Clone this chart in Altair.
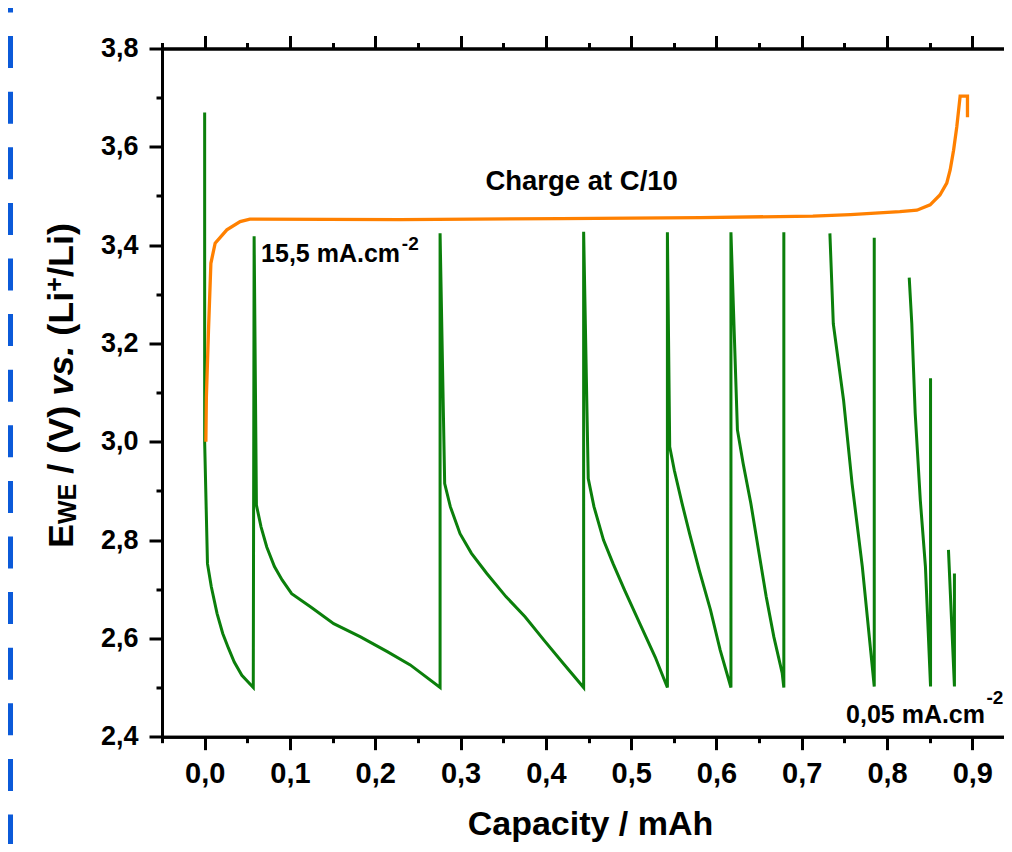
import altair as alt
import pandas as pd

FONT = "Liberation Sans"
GREEN = "#0b7f0b"
ORANGE = "#ff8000"

# ---- discharge pulses (green), segment id marks breaks in the record ----
green_x = [
    0.000, 0.000, 0.0033, 0.0078, 0.0145, 0.0212, 0.0279, 0.0347, 0.0436, 0.057,
    0.058, 0.0607, 0.0661, 0.0728, 0.0818, 0.0908, 0.102, 0.1244, 0.1513, 0.1827, 0.2141, 0.2410, 0.276,
    0.276, 0.2814, 0.288, 0.2994, 0.3128, 0.3308, 0.3532, 0.3756, 0.398, 0.4205, 0.4443,
    0.4443, 0.4497, 0.4564, 0.4676, 0.4788, 0.4923, 0.5102, 0.5282, 0.5425,
    0.5425, 0.5452, 0.5506, 0.5596, 0.5685, 0.5798, 0.593, 0.6044, 0.617,
    0.617, 0.6246, 0.6313, 0.6403, 0.6493, 0.6583, 0.6673, 0.6771, 0.679,
    0.679,
    0.733, 0.737, 0.749, 0.759, 0.771, 0.785, 0.785,
    0.826, 0.829, 0.833, 0.839, 0.845, 0.851, 0.851,
    0.872, 0.879, 0.879,
]
green_y = [
    3.670, 3.000, 2.752, 2.705, 2.651, 2.610, 2.580, 2.552, 2.525, 2.500,
    3.418, 2.871, 2.827, 2.786, 2.746, 2.719, 2.691, 2.664, 2.630, 2.603, 2.573, 2.546, 2.500,
    3.424, 2.915, 2.868, 2.813, 2.773, 2.732, 2.685, 2.644, 2.596, 2.549, 2.500,
    3.427, 2.925, 2.868, 2.800, 2.752, 2.698, 2.630, 2.562, 2.500,
    3.426, 2.990, 2.942, 2.875, 2.813, 2.739, 2.658, 2.576, 2.500,
    3.426, 3.024, 2.956, 2.875, 2.780, 2.685, 2.603, 2.529, 2.500,
    3.426,
    3.424, 3.240, 3.085, 2.915, 2.746, 2.502, 3.415,
    3.334, 3.241, 3.058, 2.881, 2.746, 2.502, 3.129,
    2.780, 2.502, 2.732,
]
green_seg = [0] * (len(green_x) - 17) + [1] * 7 + [2] * 7 + [3] * 3

# ---- charge at C/10 (orange) ----
charge_x = [0.0014, 0.0020, 0.0045, 0.0073, 0.0123, 0.026, 0.0416, 0.053, 0.229, 0.417,
            0.581, 0.713, 0.757, 0.815, 0.835, 0.8505, 0.862, 0.870, 0.874, 0.878,
            0.8818, 0.8857, 0.8943, 0.8943]
charge_y = [3.000, 3.090, 3.227, 3.363, 3.404, 3.431, 3.448, 3.453, 3.452, 3.454,
            3.456, 3.459, 3.462, 3.468, 3.471, 3.482, 3.502, 3.526, 3.553, 3.593,
            3.641, 3.703, 3.703, 3.660]

# ---- ticks ----
x_major = [0.0, 0.1, 0.2, 0.3, 0.4, 0.5, 0.6, 0.7, 0.8, 0.9]
x_minor = [-0.05, 0.05, 0.15, 0.25, 0.35, 0.45, 0.55, 0.65, 0.75, 0.85]
y_major = [2.4, 2.6, 2.8, 3.0, 3.2, 3.4, 3.6, 3.8]
y_minor = [2.5, 2.7, 2.9, 3.1, 3.3, 3.5, 3.7]

# ---- annotations ----
charge_label = ["Charge at C/10"]
charge_label_x = [0.442]
charge_label_y = [3.512]
rate_text = ["15,5 mA.cm", "0,05 mA.cm"]
rate_x = [0.0662, 0.7520]
rate_y = [3.3656, 2.4283]
sup_text = ["-2", "-2"]
sup_x = [0.2312, 0.9165]
sup_y = [3.390, 2.4663]

# ---- y title pieces ----
title_pieces = ["E", "WE", " / (V) ", "vs.", " (Li", "+", "/Li)"]
title_sizes = [36, 25, 36, 36, 36, 25, 36]
title_shift = [0, 3, 0, 0, 0, -10, 0]
title_style = ["normal", "normal", "normal", "italic", "normal", "normal", "normal"]

AW = {' ': 278, '(': 333, ')': 333, '+': 584, ',': 278, '-': 333, '.': 278, '/': 278,
      'E': 667, 'L': 611, 'V': 667, 'W': 944, 'i': 278, 's': 556, 'v': 556}


def tw(s, size):
    return sum(AW.get(c, 556) for c in s) * size / 1000.0


PLOT_W = 842.0
xs = alt.Scale(domain=[-0.05, -0.05 + PLOT_W / 853.0], nice=False, zero=False)
ys = alt.Scale(domain=[2.4, 3.8], nice=False, zero=False)
LBL = "replace(format(datum.value, '.1f'), '.', ',')"

common_axis = dict(tickWidth=3, tickColor="black", domainWidth=3, domainColor="black",
                   grid=False, labelFlush=False, labelOverlap=False)

x_major_axis = alt.Axis(values=x_major, orient="bottom", tickSize=13, labelFont=FONT,
                        labelFontSize=29, labelFontWeight="bold", labelColor="black",
                        labelPadding=10, labelExpr=LBL, title="Capacity / mAh",
                        titleFont=FONT, titleFontSize=34, titleFontWeight="bold",
                        titleColor="black", titleBaseline="alphabetic", titleY=98,
                        titleX=428, **common_axis)
x_minor_axis = alt.Axis(values=x_minor, orient="bottom", tickSize=6, labels=False,
                        title=None, **common_axis)
x_top_major = alt.Axis(values=x_major, orient="top", tickSize=13, labels=False,
                       title=None, **common_axis)
x_top_minor = alt.Axis(values=x_minor, orient="top", tickSize=6, labels=False,
                       title=None, **common_axis)
y_major_axis = alt.Axis(values=y_major, orient="left", tickSize=13, labelFont=FONT,
                        labelFontSize=27, labelFontWeight="bold", labelColor="black",
                        labelPadding=11, labelExpr=LBL, title=None, **common_axis)
y_minor_axis = alt.Axis(values=y_minor, orient="left", tickSize=6, labels=False,
                        title=None, **common_axis)

gdf = pd.DataFrame({"seg": green_seg, "x": green_x, "y": green_y,
                    "i": list(range(len(green_x)))})
cdf = pd.DataFrame({"x": charge_x, "y": charge_y, "i": list(range(len(charge_x)))})

green = alt.Chart(gdf).mark_line(color=GREEN, strokeWidth=3).encode(
    x=alt.X("x:Q", scale=xs, axis=x_major_axis),
    y=alt.Y("y:Q", scale=ys, axis=y_major_axis),
    detail="seg:N",
    order="i:Q",
)

orange = alt.Chart(cdf).mark_line(color=ORANGE, strokeWidth=3.3).encode(
    x=alt.X("x:Q", scale=xs, axis=x_minor_axis),
    y=alt.Y("y:Q", scale=ys, axis=y_minor_axis),
    order="i:Q",
)

charge_txt = alt.Chart(pd.DataFrame({"t": charge_label, "x": charge_label_x,
                                     "y": charge_label_y})).mark_text(
    font=FONT, fontSize=27.5, fontWeight="bold", color="black", align="center",
    baseline="alphabetic").encode(
    x=alt.X("x:Q", scale=xs, axis=x_top_major),
    y=alt.Y("y:Q", scale=ys, axis=None),
    text="t:N",
)

rate_txt = alt.Chart(pd.DataFrame({"t": rate_text, "x": rate_x, "y": rate_y})).mark_text(
    font=FONT, fontSize=25, fontWeight="bold", color="black", align="left",
    baseline="alphabetic").encode(
    x=alt.X("x:Q", scale=xs, axis=x_top_minor),
    y=alt.Y("y:Q", scale=ys, axis=None),
    text="t:N",
)

sup_txt = alt.Chart(pd.DataFrame({"t": sup_text, "x": sup_x, "y": sup_y})).mark_text(
    font=FONT, fontSize=19, fontWeight="bold", color="black", align="left",
    baseline="alphabetic").encode(
    x=alt.X("x:Q", scale=xs, axis=None),
    y=alt.Y("y:Q", scale=ys, axis=None),
    text="t:N",
)

# blue dashed edge line seen at the left border of the picture
blue = alt.Chart(pd.DataFrame({"k": [0]})).mark_rule(
    color="#0b5ad9", strokeWidth=5, strokeDash=[32, 23.6], strokeDashOffset=27.5
).encode(x=alt.value(-151.5), y=alt.value(-40.5), y2=alt.value(800))

# y axis title built from pieces (subscript / superscript / italic)
title_layers = []
base_x = -89.5
cursor = 499.5
for piece, size, shift, style in zip(title_pieces, title_sizes, title_shift, title_style):
    stripped = piece.strip()
    lead = len(piece) - len(piece.lstrip())
    pos = cursor - tw(piece[:lead], size)
    title_layers.append(
        alt.Chart(pd.DataFrame({"t": [stripped]})).mark_text(
            font=FONT, fontSize=size, fontWeight="bold", fontStyle=style, color="black",
            angle=270, align="left", baseline="alphabetic"
        ).encode(text="t:N", x=alt.value(base_x + shift), y=alt.value(pos))
    )
    cursor -= tw(piece, size)

chart = alt.layer(blue, green, orange, charge_txt, rate_txt, sup_txt, *title_layers).resolve_axis(
    x="independent", y="independent"
).properties(
    width=PLOT_W, height=688.2,
    padding={"left": 154, "top": 40.5, "right": 0, "bottom": 107},
    autosize=alt.AutoSizeParams(type="none"),
    background="white",
).configure_view(stroke=None)

chart.save("out.html", embed_options={"renderer": "svg", "actions": False})
